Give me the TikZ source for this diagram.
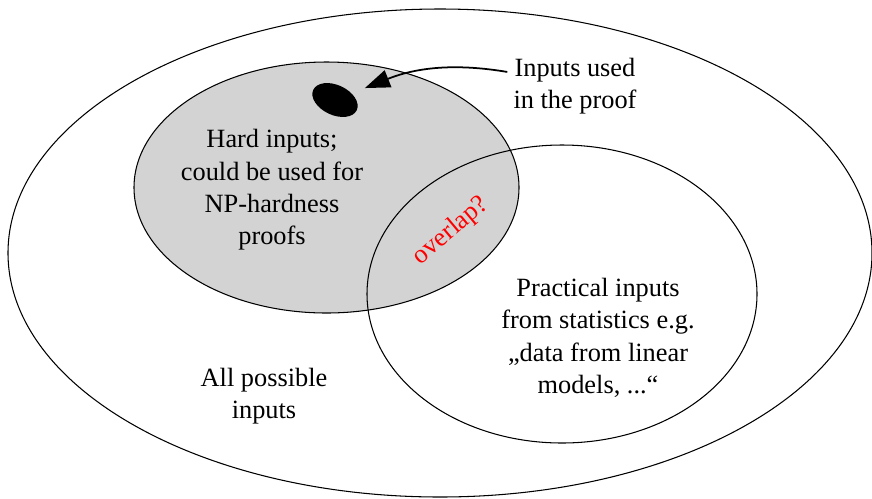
\documentclass[tikz,border=0pt]{standalone}
\usepackage{fontspec}
\setmainfont{Liberation Serif}
\usetikzlibrary{shapes.geometric,arrows.meta}
\definecolor{hardgray}{RGB}{211,211,211}

\begin{document}
\begin{tikzpicture}[x=0.02cm, y=-0.02cm,
    venntext/.style={align=center, font=\fontsize{15}{18.4}\selectfont},
    setline/.style={line width=0.6pt}]
    \useasboundingbox (0,0) rectangle (872,498);

    % All possible inputs
    \draw[setline] (440,253) ellipse [x radius=432, y radius=244];
    \node[venntext] (allinputs) at (264,396) {All possible\\inputs};

    % Hard inputs
    \filldraw[setline, fill=hardgray] (326.5,187.5) ellipse [x radius=192.5, y radius=125.5];
    \node[venntext] (hardinputs) at (272,190) {Hard inputs;\\could be used for\\NP-hardness\\proofs};

    % Practical inputs
    \draw[setline] (562,294) ellipse [x radius=195, y radius=149];
    \node[venntext] (practical) at (598,338) {Practical inputs\\from statistics e.g.\\„data from linear\\models, ...“};

    % Overlap
    \node[venntext, text=red, rotate=40] (overlap) at (451,231) {overlap?};

    % Inputs used in the proof
    \node[fill, ellipse, inner sep=0pt, minimum width=0.96cm, minimum height=0.6cm, rotate=-25] (proofdot) at (335,100) {};
    \node[venntext] (proofnote) at (575,86) {Inputs used\\in the proof};
    \draw[line width=1pt, -{Triangle[length=5mm, width=3.6mm]}, shorten >=8pt]
        ([yshift=8pt]proofnote.west) .. controls (460,64) and (420,66) .. (proofdot);
\end{tikzpicture}
\end{document}
